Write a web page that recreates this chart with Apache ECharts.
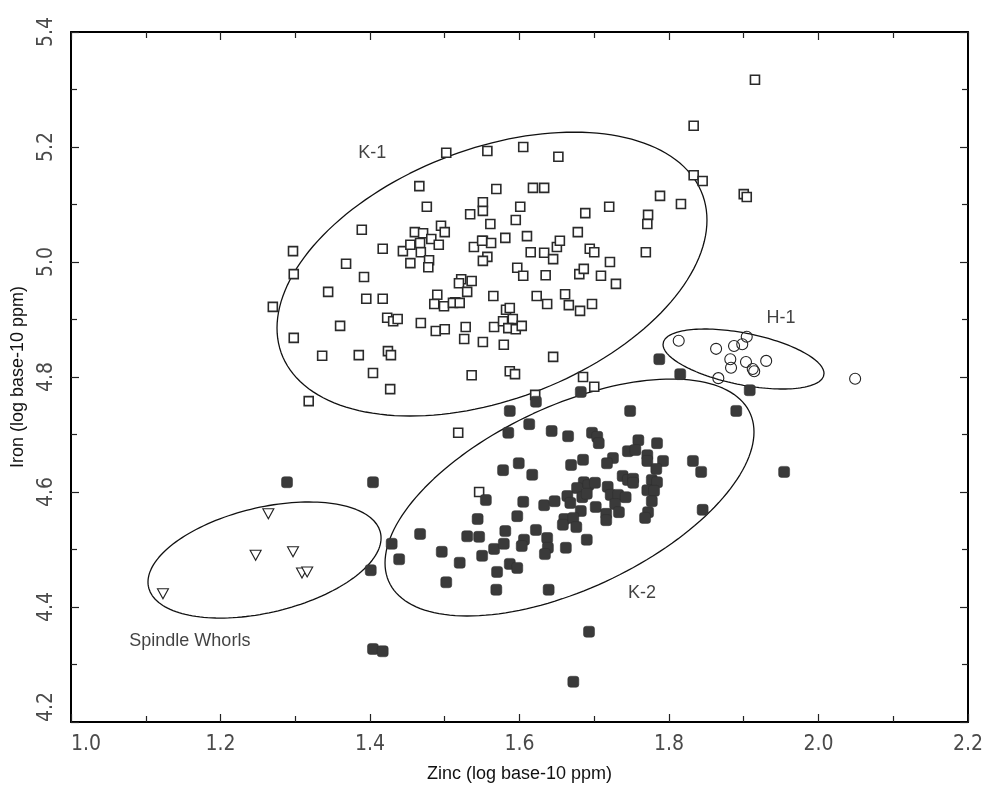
<!DOCTYPE html>
<html>
<head>
<meta charset="utf-8">
<script src="https://cdn.jsdelivr.net/npm/echarts@6/dist/echarts.min.js"></script>
<style>
  html, body { margin: 0; padding: 0; background: #ffffff; }
  #chart { width: 987px; height: 790px; }
</style>
</head>
<body>
<div id="chart"></div>
<script>
// Group K-1 (open squares): zinc and iron, log base-10 ppm
const k1Zinc = [1.915,1.833,1.502,1.557,1.605,1.652,1.833,1.845,1.900,1.904,1.788,1.816,1.772,1.771,1.769,1.720,1.688,1.678,1.569,1.618,
  1.633,1.601,1.595,1.561,1.551,1.551,1.610,1.581,1.551,1.562,1.557,1.551,1.615,1.633,1.645,1.650,1.654,1.694,1.700,1.721,
  1.597,1.605,1.635,1.680,1.686,1.709,1.729,1.565,1.623,1.661,1.297,1.298,1.344,1.368,1.389,1.392,1.417,1.444,1.454,1.454,
  1.460,1.471,1.467,1.468,1.482,1.492,1.495,1.500,1.479,1.478,1.466,1.476,1.534,1.539,1.550,1.522,1.519,1.536,1.530,1.490,
  1.395,1.417,1.514,1.270,1.360,1.298,1.336,1.385,1.404,1.427,1.318,1.423,1.431,1.437,1.424,1.428,1.468,1.488,1.500,1.486,
  1.499,1.511,1.520,1.528,1.526,1.551,1.566,1.579,1.578,1.582,1.587,1.591,1.585,1.595,1.603,1.536,1.587,1.594,1.637,1.645,
  1.666,1.681,1.697,1.685,1.700,1.621,1.518,1.546];
const k1Iron = [5.317,5.237,5.190,5.193,5.200,5.183,5.151,5.141,5.118,5.113,5.115,5.101,5.082,5.066,5.017,5.096,5.085,5.052,5.127,5.129,
  5.129,5.096,5.073,5.066,5.104,5.089,5.045,5.042,5.037,5.033,5.009,5.002,5.017,5.016,5.005,5.026,5.037,5.023,5.017,5.000,
  4.990,4.976,4.977,4.979,4.988,4.976,4.962,4.941,4.941,4.944,5.019,4.979,4.948,4.997,5.056,4.974,5.023,5.019,5.030,4.998,
  5.052,5.050,5.033,5.017,5.040,5.030,5.063,5.052,5.003,4.991,5.132,5.096,5.083,5.026,5.037,4.970,4.963,4.967,4.948,4.943,
  4.936,4.936,4.930,4.922,4.889,4.868,4.837,4.838,4.807,4.779,4.758,4.903,4.897,4.901,4.845,4.838,4.894,4.880,4.883,4.927,
  4.923,4.929,4.929,4.887,4.866,4.861,4.887,4.856,4.897,4.917,4.920,4.901,4.885,4.883,4.889,4.803,4.810,4.805,4.927,4.835,
  4.925,4.915,4.927,4.800,4.783,4.769,4.703,4.600];

// Group K-2 (filled squares)
const k2Zinc = [1.587,1.622,1.613,1.585,1.643,1.665,1.697,1.704,1.706,1.748,1.745,1.685,1.669,1.725,1.717,1.599,1.578,1.617,1.738,1.745,
  1.686,1.692,1.701,1.677,1.664,1.668,1.684,1.690,1.718,1.722,1.732,1.742,1.728,1.702,1.682,1.716,1.716,1.733,1.660,1.658,
  1.672,1.676,1.555,1.605,1.633,1.647,1.597,1.544,1.622,1.581,1.530,1.546,1.467,1.429,1.496,1.439,1.520,1.550,1.566,1.579,
  1.606,1.603,1.637,1.638,1.634,1.662,1.690,1.587,1.597,1.570,1.502,1.569,1.639,1.890,1.759,1.784,1.755,1.771,1.771,1.792,
  1.783,1.832,1.843,1.954,1.752,1.752,1.777,1.784,1.771,1.780,1.777,1.772,1.768,1.845,1.787,1.815,1.908,1.682,1.289,1.404,
  1.401,1.404,1.417,1.693,1.672];
const k2Iron = [4.741,4.757,4.718,4.703,4.706,4.697,4.703,4.696,4.685,4.741,4.671,4.656,4.647,4.659,4.650,4.650,4.638,4.630,4.628,4.621,
  4.617,4.612,4.616,4.607,4.593,4.581,4.591,4.597,4.609,4.595,4.595,4.591,4.579,4.574,4.567,4.562,4.551,4.565,4.553,4.543,
  4.555,4.539,4.586,4.583,4.577,4.584,4.558,4.553,4.534,4.532,4.523,4.522,4.527,4.510,4.496,4.483,4.477,4.489,4.501,4.510,
  4.517,4.506,4.520,4.503,4.492,4.503,4.517,4.475,4.468,4.461,4.443,4.430,4.430,4.741,4.690,4.685,4.673,4.664,4.654,4.654,
  4.640,4.654,4.635,4.635,4.623,4.616,4.621,4.617,4.603,4.602,4.584,4.565,4.555,4.569,4.831,4.805,4.777,4.774,4.617,4.617,
  4.464,4.327,4.323,4.357,4.270];

// Group H-1 (open circles)
const h1Zinc = [1.813,1.863,1.887,1.898,1.904,1.882,1.883,1.903,1.930,1.912,1.914,1.866,2.049];
const h1Iron = [4.863,4.849,4.854,4.857,4.870,4.831,4.816,4.826,4.828,4.814,4.810,4.798,4.797];

// Spindle whorls (open downward triangles)
const whorlZinc = [1.264,1.247,1.297,1.309,1.316,1.123];
const whorlIron = [4.562,4.490,4.496,4.459,4.461,4.423];

// Group ellipses: centre, zinc half-extent, iron cos / sin terms
const ellipseNames  = ['K-1', 'K-2', 'H-1', 'Spindle Whorls'];
const ellipseZinc   = [1.5632, 1.6669, 1.8997, 1.2589];
const ellipseIron   = [4.979, 4.5904, 4.8313, 4.4817];
const ellipseZincA  = [0.2876, 0.2468, 0.1077, 0.1559];
const ellipseIronC  = [0.0939, 0.1139, -0.0252, 0.0383];
const ellipseIronS  = [0.2283, 0.1717, 0.0457, 0.0934];

// Group label anchors
const labelZinc = [1.403, 1.764, 1.950, 1.159];
const labelIron = [5.190, 4.424, 4.903, 4.341];

// Axis ticks
const zincTicks = [1.0, 1.2, 1.4, 1.6, 1.8, 2.0, 2.2];
const ironTicks = [4.2, 4.4, 4.6, 4.8, 5.0, 5.2, 5.4];

const pairs = (xs, ys) => xs.map((x, i) => [x, ys[i]]);

function ellipsePath(i) {
  const pts = [];
  const n = 160;
  for (let k = 0; k <= n; k++) {
    const t = (2 * Math.PI * k) / n;
    pts.push([
      ellipseZinc[i] + ellipseZincA[i] * Math.cos(t),
      ellipseIron[i] + ellipseIronC[i] * Math.cos(t) + ellipseIronS[i] * Math.sin(t)
    ]);
  }
  return pts;
}

const tickFont = { fontFamily: '"Liberation Sans Narrow", "DejaVu Sans Condensed", sans-serif', fontSize: 21, color: '#4a4a4a' };
const titleFont = { fontFamily: '"Liberation Sans", Arial, sans-serif', fontSize: 18, color: '#111' };
const groupFont = { fontFamily: '"Liberation Sans", Arial, sans-serif', fontSize: 18, color: '#111' };

const xMin = zincTicks[0], xMax = zincTicks[zincTicks.length - 1];
const yMin = ironTicks[0], yMax = ironTicks[ironTicks.length - 1];

const baseAxis = {
  type: 'value',
  interval: 0.2,
  splitLine: { show: false },
  axisLine: { show: true, onZero: false, lineStyle: { color: '#000', width: 2 } },
  axisTick: { show: true, inside: true, length: 8, lineStyle: { color: '#222', width: 1.2 } },
  minorTick: { show: true, splitNumber: 2, length: 6, lineStyle: { color: '#222', width: 1.2 } },
  minorSplitLine: { show: false }
};

const chart = echarts.init(document.getElementById('chart'), null, { renderer: 'canvas' });

const ellipseSeries = ellipseNames.map((name, i) => ({
  name: name + ' ellipse',
  type: 'line',
  xAxisIndex: 0, yAxisIndex: 0,
  data: ellipsePath(i),
  showSymbol: false,
  symbol: 'none',
  smooth: false,
  silent: true,
  lineStyle: { color: '#111', width: 1.3 },
  z: 2
}));

chart.setOption({
  animation: false,
  backgroundColor: '#ffffff',
  grid: { left: 71, right: 19, top: 32, bottom: 68, containLabel: false },
  xAxis: [
    Object.assign({}, baseAxis, {
      position: 'bottom', min: xMin, max: xMax,
      name: 'Zinc (log base-10 ppm)', nameLocation: 'middle', nameGap: 43,
      nameTextStyle: titleFont,
      axisLabel: Object.assign({ margin: 12, alignMinLabel: 'left', formatter: v => v.toFixed(1) }, tickFont)
    }),
    Object.assign({}, baseAxis, {
      position: 'top', min: xMin, max: xMax,
      axisLabel: { show: false }
    })
  ],
  yAxis: [
    Object.assign({}, baseAxis, {
      position: 'left', min: yMin, max: yMax,
      name: 'Iron (log base-10 ppm)', nameLocation: 'middle', nameGap: 44,
      nameRotate: 90,
      nameTextStyle: titleFont,
      axisLabel: Object.assign({ margin: 14, rotate: 90, alignMinLabel: 'left', formatter: v => v.toFixed(1) }, tickFont)
    }),
    Object.assign({}, baseAxis, {
      position: 'right', min: yMin, max: yMax,
      axisLabel: { show: false }
    })
  ],
  series: ellipseSeries.concat([
    {
      name: 'K-1', type: 'scatter', data: pairs(k1Zinc, k1Iron),
      symbol: 'rect', symbolSize: 9,
      itemStyle: { color: '#ffffff', borderColor: '#2a2a2a', borderWidth: 1.6, opacity: 1 },
      z: 3
    },
    {
      name: 'K-2', type: 'scatter', data: pairs(k2Zinc, k2Iron),
      symbol: 'roundRect', symbolSize: 11,
      itemStyle: { color: '#3a3a3a', borderColor: '#2e2e2e', borderWidth: 0.5, opacity: 1 },
      z: 4
    },
    {
      name: 'H-1', type: 'scatter', data: pairs(h1Zinc, h1Iron),
      symbol: 'circle', symbolSize: 11,
      itemStyle: { color: 'rgba(255,255,255,0)', borderColor: '#222', borderWidth: 1.1, opacity: 1 },
      z: 4
    },
    {
      name: 'Spindle Whorls', type: 'scatter', data: pairs(whorlZinc, whorlIron),
      symbol: 'triangle', symbolRotate: 180, symbolSize: [11, 10],
      itemStyle: { color: '#ffffff', borderColor: '#222', borderWidth: 1.1, opacity: 1 },
      z: 4
    },
    {
      name: 'group labels', type: 'scatter',
      data: ellipseNames.map((n, i) => ({ value: [labelZinc[i], labelIron[i]], name: n })),
      symbolSize: 0, silent: true,
      label: Object.assign({ show: true, position: 'inside', formatter: p => p.name }, groupFont),
      z: 5
    }
  ])
});
</script>
</body>
</html>
